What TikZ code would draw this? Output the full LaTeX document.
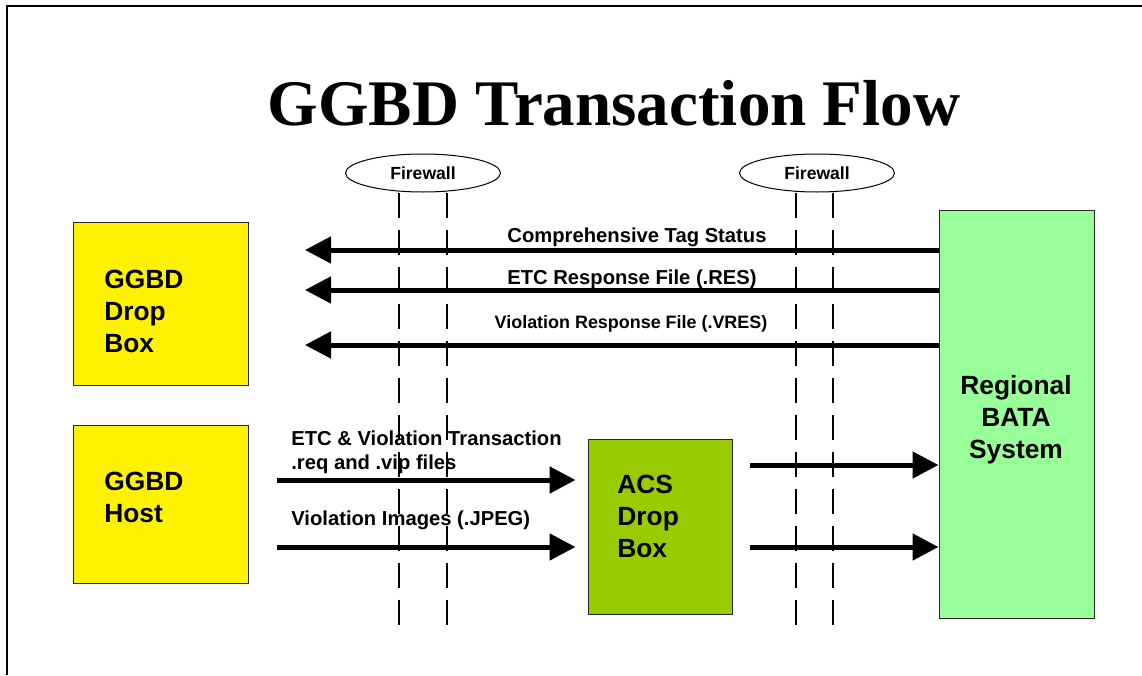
\documentclass[tikz,border=0pt]{standalone}
\usepackage{fontspec}
\setmainfont{Liberation Sans}
\newfontfamily\titlefont{Liberation Serif}
\usetikzlibrary{shapes.geometric,arrows.meta}

\definecolor{acsgreen}{HTML}{99CC00}
\definecolor{batagreen}{HTML}{99FF99}

\begin{document}
\begin{tikzpicture}[x=0.2mm,y=-0.2mm,
  box/.style={draw=black!85,line width=0.2mm,inner sep=0},
  boxtext/.style={font=\bfseries\fontsize{15}{18.2}\selectfont,align=left,inner sep=0},
  lbl/.style={font=\bfseries\fontsize{11.5}{13}\selectfont,inner sep=0,anchor=base},
  fw/.style={ellipse,draw,line width=0.2mm,minimum width=31mm,minimum height=7.6mm,inner sep=0,font=\bfseries\fontsize{10}{12}\selectfont},
  wall/.style={line width=0.4mm,dash pattern=on 5mm off 2.4mm},
  flow/.style={line width=1mm,-{Triangle[length=5.2mm,width=5.2mm]}}]

\useasboundingbox (0,0) rectangle (1142,675);
\draw [line width=0.4mm] (7,675) -- (7,6) -- (1142,6);

\node [font=\titlefont\bfseries\fontsize{37}{40}\selectfont,anchor=base,inner sep=0] (title) at (614,125) {GGBD Transaction Flow};

% boxes
\node [box,fill=yellow,minimum width=34.8mm,minimum height=32.6mm] (dropbox) at (161,303.5) {};
\node [boxtext,anchor=west] (droptext) at (104,311) {GGBD\\Drop\\Box};
\node [box,fill=yellow,minimum width=34.8mm,minimum height=31.6mm] (host) at (161,504) {};
\node [boxtext,anchor=west] (hosttext) at (104,497) {GGBD\\Host};
\node [box,fill=acsgreen,minimum width=28.8mm,minimum height=35mm] (acs) at (660,526.5) {};
\node [boxtext,anchor=west] (acstext) at (617,516) {ACS\\Drop\\Box};
\node [box,fill=batagreen,minimum width=31mm,minimum height=81.4mm] (bata) at (1016.5,414.5) {};
\node [boxtext,align=center] (batatext) at (1016,420) {Regional\\BATA\\System};

% flows back to the drop box
\coordinate (tagend) at (305,250);
\coordinate (resend) at (305,290);
\coordinate (vresend) at (305,345);
\draw [flow] (bata.west |- tagend) -- (tagend);
\draw [flow] (bata.west |- resend) -- (resend);
\draw [flow] (bata.west |- vresend) -- (vresend);

% flows from the host
\coordinate (reqstart) at (277,480);
\coordinate (jpegstart) at (277,547);
\draw [flow,shorten >=2.4mm] (reqstart) -- (reqstart -| acs.west);
\draw [flow,shorten >=2.4mm] (jpegstart) -- (jpegstart -| acs.west);
\coordinate (acsout) at (750,465);
\coordinate (acsoutb) at (750,547);
\draw [flow] (acsout) -- (acsout -| bata.west);
\draw [flow] (acsoutb) -- (acsoutb -| bata.west);

\node [lbl] (taglbl) at (637,242) {Comprehensive Tag Status};
\node [lbl] (reslbl) at (632,284) {ETC Response File (.RES)};
\node [lbl,font=\bfseries\fontsize{10.2}{12}\selectfont] (vreslbl) at (631,328.5) {Violation Response File (.VRES)};
\node [lbl,anchor=base west] (reqlbl) at (291,445) {ETC \& Violation Transaction};
\node [lbl,anchor=base west] (viplbl) at (291,469) {.req and .vip files};
\node [lbl,anchor=base west] (jpeglbl) at (291,525) {Violation Images (.JPEG)};

% firewalls
\node [fw] (fwa) at (423,173) {Firewall};
\node [fw] (fwb) at (817,173) {Firewall};
\draw [wall] ([xshift=-4.8mm]fwa.south) -- ++(0,438);
\draw [wall] ([xshift=4.8mm]fwa.south) -- ++(0,438);
\draw [wall] ([xshift=-4.2mm]fwb.south) -- ++(0,435);
\draw [wall] ([xshift=3.2mm]fwb.south) -- ++(0,435);
\end{tikzpicture}
\end{document}
